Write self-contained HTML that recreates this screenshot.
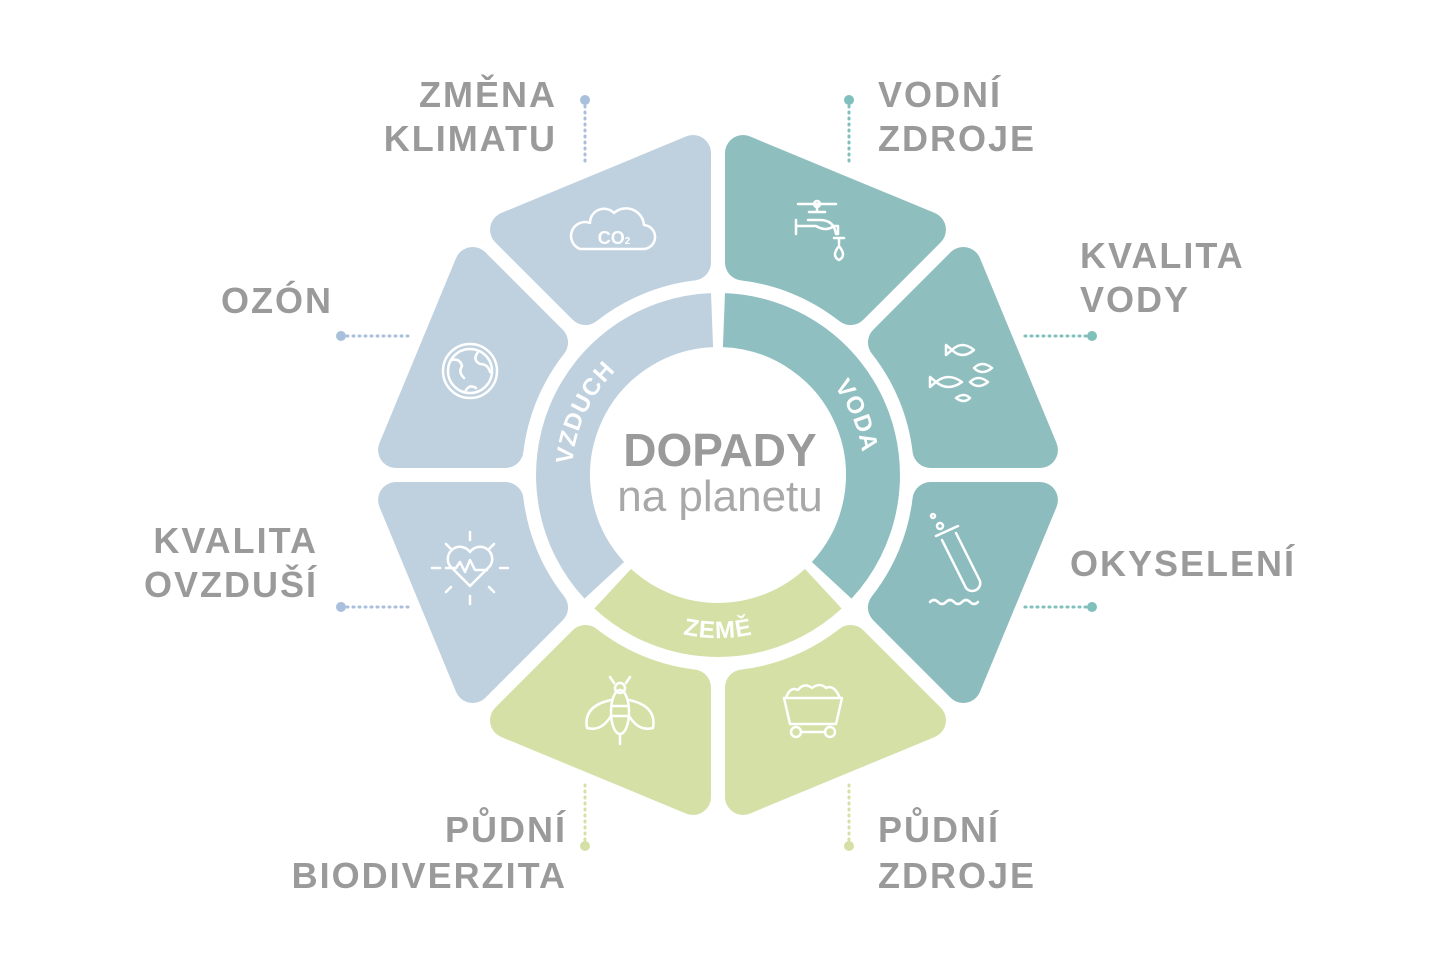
<!DOCTYPE html>
<html><head><meta charset="utf-8"><style>
html,body{margin:0;padding:0;background:#fff;}
svg{display:block;}
.lb{font-family:"Liberation Sans",sans-serif;font-weight:bold;font-size:36px;fill:#9a9a9a;letter-spacing:2px;}
.rt{font-family:"Liberation Sans",sans-serif;font-weight:bold;font-size:24px;fill:#fff;letter-spacing:1px;}
.ic{fill:none;stroke:#fff;stroke-width:2.5;stroke-linecap:round;stroke-linejoin:round;}
</style></head><body>
<svg width="1440" height="960" viewBox="0 0 1440 960">
<defs>
<path id="pt" d="M -58.2,-205.9 L -100.1,-307 L 100.1,-307 L 58.2,-205.9 A 214 214 0 0 0 -58.2,-205.9 Z" stroke-width="36" stroke-linejoin="round"/>
<path id="pvz" d="M 580.8,524.9 A 146 146 0 0 1 668.1,337.8"/>
<path id="pvo" d="M 772.7,339.6 A 146 146 0 0 1 853.4,529.7"/>
<path id="pze" d="M 602.7,590.3 A 163 163 0 0 0 833.3,590.3"/>
</defs>
<g transform="translate(718,475)">
<use href="#pt" transform="rotate(22.5)" fill="#8fbebf" stroke="#8fbebf"/>
<use href="#pt" transform="rotate(67.5)" fill="#8fbebf" stroke="#8fbebf"/>
<use href="#pt" transform="rotate(112.5)" fill="#8dbcbe" stroke="#8dbcbe"/>
<use href="#pt" transform="rotate(157.5)" fill="#d4e0a6" stroke="#d4e0a6"/>
<use href="#pt" transform="rotate(202.5)" fill="#d4e0a6" stroke="#d4e0a6"/>
<use href="#pt" transform="rotate(247.5)" fill="#bfd1df" stroke="#bfd1df"/>
<use href="#pt" transform="rotate(292.5)" fill="#bfd1df" stroke="#bfd1df"/>
<use href="#pt" transform="rotate(337.5)" fill="#bfd1df" stroke="#bfd1df"/>
</g>
<path d="M 723.95,320.1 A 155 155 0 0 1 831.7,580.3" fill="none" stroke="#8fbfc0" stroke-width="54"/>
<path d="M 823.3,588.7 A 155 155 0 0 1 612.7,588.7" fill="none" stroke="#d4e0a6" stroke-width="54"/>
<path d="M 604.3,580.3 A 155 155 0 0 1 712.05,320.1" fill="none" stroke="#bfd1df" stroke-width="54"/>
<text class="rt"><textPath href="#pvz" startOffset="50%" text-anchor="middle">VZDUCH</textPath></text>
<text class="rt"><textPath href="#pvo" startOffset="50%" text-anchor="middle">VODA</textPath></text>
<text class="rt"><textPath href="#pze" startOffset="50%" text-anchor="middle">ZEMĚ</textPath></text>
<text x="720" y="466" text-anchor="middle" font-family="Liberation Sans,sans-serif" font-weight="bold" font-size="46" fill="#9a9a9a">DOPADY</text>
<text x="720" y="511" text-anchor="middle" font-family="Liberation Sans,sans-serif" font-size="44" fill="#a8a8a8">na planetu</text>

<g stroke-dasharray="1 5" stroke-width="3" stroke-linecap="round" fill="none">
<line x1="585" y1="106" x2="585" y2="165" stroke="#a9bfdc"/>
<line x1="849" y1="106" x2="849" y2="165" stroke="#7fc0bd"/>
<line x1="1086" y1="336" x2="1025" y2="336" stroke="#7fc0bd"/>
<line x1="1086" y1="607" x2="1025" y2="607" stroke="#7fc0bd"/>
<line x1="347" y1="336" x2="410" y2="336" stroke="#a9bfdc"/>
<line x1="347" y1="607" x2="410" y2="607" stroke="#a9bfdc"/>
<line x1="585" y1="840" x2="585" y2="785" stroke="#d4e0a6"/>
<line x1="849" y1="840" x2="849" y2="785" stroke="#d4e0a6"/>
</g>
<g>
<circle cx="585" cy="100" r="5" fill="#a9bfdc"/><circle cx="849" cy="100" r="5" fill="#7fc0bd"/>
<circle cx="1092" cy="336" r="5" fill="#7fc0bd"/><circle cx="1092" cy="607" r="5" fill="#7fc0bd"/>
<circle cx="341" cy="336" r="5" fill="#a9bfdc"/><circle cx="341" cy="607" r="5" fill="#a9bfdc"/>
<circle cx="585" cy="846" r="5" fill="#d4e0a6"/><circle cx="849" cy="846" r="5" fill="#d4e0a6"/>
</g>
<g class="lb">
<text x="557" y="107" text-anchor="end">ZMĚNA</text><text x="557" y="151" text-anchor="end">KLIMATU</text>
<text x="878" y="107">VODNÍ</text><text x="878" y="151">ZDROJE</text>
<text x="1080" y="268">KVALITA</text><text x="1080" y="312">VODY</text>
<text x="333" y="313" text-anchor="end">OZÓN</text>
<text x="1070" y="576">OKYSELENÍ</text>
<text x="318" y="553" text-anchor="end">KVALITA</text><text x="318" y="597" text-anchor="end">OVZDUŠÍ</text>
<text x="567" y="842" text-anchor="end">PŮDNÍ</text><text x="567" y="888" text-anchor="end">BIODIVERZITA</text>
<text x="878" y="842">PŮDNÍ</text><text x="878" y="888">ZDROJE</text>
</g>
<g class="ic">
<path d="M580,249 h62 a12,12 0 0 0 2,-24 a18,18 0 0 0 -30,-12 a14,14 0 0 0 -24,10 a13,13 0 0 0 -10,26 z"/>
</g>
<text x="614" y="244" text-anchor="middle" font-family="Liberation Sans,sans-serif" font-weight="bold" font-size="18" fill="#fff">CO<tspan font-size="10">2</tspan></text>
<g class="ic">
<path d="M798,204 h38 M817,204 v8 M809,212 h16 M796,220 v14 M796,226 h20 q10,6 18,0 h4 v8 M834,238 h10 M839,238 v6 M839,246 q-8,10 0,14 q8,-4 0,-14"/>
<circle cx="817" cy="204" r="3"/>
<path d="M808,220 h12 q14,0 16,14"/>
</g>
<g class="ic">
<circle cx="470" cy="371" r="27"/><circle cx="470" cy="371" r="22"/>
<path d="M452,360 q8,-2 10,6 q-4,6 2,12 M478,352 q-6,8 2,12 q8,0 10,8 M466,390 q4,-6 10,-2"/>
</g>
<g class="ic">
<path d="M952,350 q10,-10 22,0 q-12,10 -22,0 z M952,350 l-6,-5 v10 z"/>
<path d="M936,382 q12,-10 26,0 q-14,10 -26,0 z M936,382 l-6,-5 v10 z"/>
<path d="M970,382 q8,-8 18,0 q-10,8 -18,0 z M974,368 q8,-8 18,0 q-10,8 -18,0 z M956,398 q8,-6 14,0 q-6,6 -14,0 z"/>
</g>
<g class="ic">
<path d="M942,540 l24,48 a8,8 0 0 0 14,-7 l-24,-48 M936,536 l22,-10"/>
<circle cx="940" cy="526" r="3"/><circle cx="933" cy="516" r="2"/>
<path d="M930,602 q4,-4 8,0 q4,4 8,0 q4,-4 8,0 q4,4 8,0 q4,-4 8,0 q4,4 8,0"/>
</g>
<g class="ic">
<path d="M470,586 l-20,-20 a12,12 0 0 1 20,-14 a12,12 0 0 1 20,14 z"/>
<path d="M446,568 h10 l4,-6 l5,10 l5,-12 l5,10 h12"/>
<path d="M470,532 v8 M470,596 v8 M432,568 h8 M500,568 h8 M446,544 l5,5 M494,544 l-5,5 M446,592 l5,-5 M494,592 l-5,-5"/>
</g>
<g class="ic">
<ellipse cx="620" cy="712" rx="9" ry="22"/><circle cx="620" cy="688" r="5"/>
<path d="M614,683 l-4,-6 M626,683 l4,-6 M612,706 h16 M612,716 h16 M620,734 v10"/>
<path d="M611,700 q-28,6 -24,28 q14,4 24,-12 M629,700 q28,6 24,28 q-14,4 -24,-12"/>
</g>
<g class="ic">
<path d="M784,698 h58 l-6,26 h-46 z M786,698 q4,-12 12,-8 q6,-8 14,-2 q8,-6 14,0 q8,-4 14,10"/>
<circle cx="796" cy="732" r="5"/><circle cx="830" cy="732" r="5"/><path d="M801,732 h24"/>
</g>
</svg>
</body></html>
